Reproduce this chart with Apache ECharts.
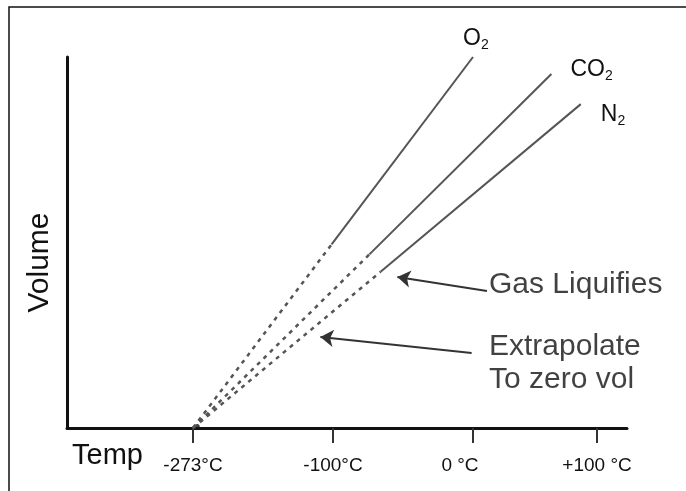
<!DOCTYPE html>
<html>
<head>
<meta charset="utf-8">
<script src="https://cdn.jsdelivr.net/npm/echarts@6/dist/echarts.min.js"></script>
<style>
  html, body { margin: 0; padding: 0; background: #fff; }
  #chart { width: 686px; height: 491px; }
</style>
</head>
<body>
<div id="chart"></div>
<script>
// schematic x scale: -273°C sits at 0, -100°C at 10, 0°C at 20
const tempTicks = [0, 10, 20, 28.86]
const tempLabels = ['-273°C', '-100°C', '0 °C', '+100 °C']

const gases = ['O2', 'CO2', 'N2']
// point where each gas liquifies (start of the measured, solid part)
const liquefyX = [9.9, 12.6, 13.4]
const liquefyV = [49.5, 46.8, 42.1]
// last measured point
const endX = [20, 25.6, 27.7]
const endV = [100, 95.4, 87.3]

// annotations: arrow tail -> tip, in axis units
const notes = ['Gas Liquifies', 'Extrapolate\nTo zero vol']
const noteX = [21, 21]
const noteV = [38.5, 26.3]
const arrowTail = [[21, 36.9], [19.9, 20.2]]
const arrowTip = [[14.6, 40.7], [9.1, 24.5]]

const ink = '#111'
const lineGrey = '#555'
const font = 'Liberation Sans, Arial, sans-serif'

const endLabelOffset = [[-18, -18], [11, -4], [12, 11]]

const chart = echarts.init(document.getElementById('chart'))

const series = []
gases.forEach(function (g, i) {
  // extrapolated part, back to zero volume
  series.push({
    name: g + ' extrapolated',
    type: 'line',
    symbol: 'none',
    silent: true,
    lineStyle: { color: lineGrey, width: 2.5, type: [4, 5] },
    data: [[0, 0], [liquefyX[i], liquefyV[i]]]
  })
  // measured part
  series.push({
    name: g,
    type: 'line',
    symbol: 'none',
    silent: true,
    lineStyle: { color: lineGrey, width: 2 },
    endLabel: {
      show: true,
      formatter: function () { return g.replace('2', '{s|2}') },
      offset: endLabelOffset[i],
      color: ink,
      fontFamily: font,
      fontSize: 23,
      lineHeight: 26,
      rich: {
        s: { fontSize: 14, lineHeight: 14, verticalAlign: 'bottom', color: ink, fontFamily: font }
      }
    },
    data: [[liquefyX[i], liquefyV[i]], [endX[i], endV[i]]]
  })
})

// absolute zero dot
series.push({
  type: 'scatter',
  silent: true,
  symbolSize: 5,
  itemStyle: { color: '#111' },
  data: [[0.3, 0.4]]
})

// annotation text + arrows
series.push({
  type: 'scatter',
  silent: true,
  symbolSize: 0,
  label: {
    show: true,
    position: 'right',
    distance: 2,
    align: 'left',
    formatter: function (p) { return notes[p.dataIndex] },
    color: ink,
    fontFamily: font,
    fontSize: 30,
    lineHeight: 33
  },
  data: [
    { value: [noteX[0], noteV[0]], label: { verticalAlign: 'middle' } },
    { value: [noteX[1], noteV[1]], label: { verticalAlign: 'top' } }
  ],
  markLine: {
    silent: true,
    animation: false,
    symbol: ['none', 'arrow'],
    symbolSize: 13,
    label: { show: false },
    lineStyle: { color: '#333', width: 2, type: 'solid' },
    data: arrowTail.map(function (t, i) {
      return [{ coord: t }, { coord: arrowTip[i] }]
    })
  }
})

chart.setOption({
  animation: false,
  backgroundColor: '#fff',
  textStyle: { fontFamily: font },
  graphic: [{
    type: 'polyline',
    silent: true,
    shape: { points: [[9, 491], [9, 7], [686, 7]] },
    style: { stroke: '#111', lineWidth: 1.5, fill: null }
  }],
  grid: { left: 67, right: 59, top: 57, bottom: 63 },
  xAxis: {
    type: 'value',
    min: -9,
    max: 31,
    name: 'Temp',
    nameLocation: 'start',
    nameGap: -76,
    nameMoveOverlap: false,
    nameTextStyle: { color: ink, fontSize: 29, verticalAlign: 'top', padding: [13, 0, 0, 0] },
    splitLine: { show: false },
    axisLine: { onZero: false, lineStyle: { color: '#111', width: 3 } },
    axisTick: {
      customValues: tempTicks,
      length: 15,
      lineStyle: { color: '#333', width: 2 }
    },
    axisLabel: {
      customValues: tempTicks,
      margin: 28,
      color: ink,
      fontSize: 19,
      formatter: function (v) {
        const s = tempLabels[tempTicks.indexOf(v)]
        return s === '0 °C' ? '{z|' + s + '}' : s
      },
      rich: { z: { fontSize: 19, color: ink, padding: [0, 26, 0, 0] } }
    }
  },
  yAxis: {
    type: 'value',
    min: 0,
    max: 100,
    name: 'Volume',
    nameLocation: 'middle',
    nameRotate: 90,
    nameGap: 12,
    nameTextStyle: { color: ink, fontSize: 30, padding: [0, 40, 0, 0] },
    splitLine: { show: false },
    axisTick: { show: false },
    axisLabel: { show: false },
    axisLine: { onZero: false, lineStyle: { color: '#111', width: 3 } }
  },
  series: series
})
</script>
</body>
</html>
